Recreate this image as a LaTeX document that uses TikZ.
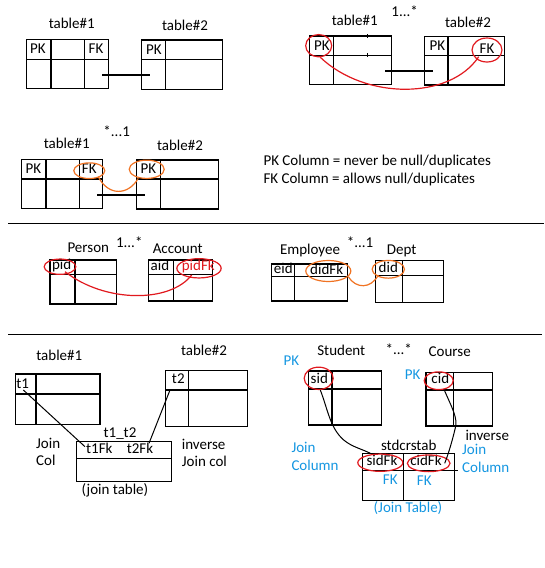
\documentclass[tikz,border=0pt]{standalone}
\usepackage{fontspec}
\setmainfont{Carlito}
\usetikzlibrary{shapes.geometric}
\definecolor{redc}{RGB}{225,25,30}
\definecolor{orangec}{RGB}{240,115,35}
\definecolor{bluec}{RGB}{20,150,225}
\newcommand\fsz{\fontsize{15}{18}\selectfont}
\tikzset{
  tb/.style={line width=1.2pt, black},
  sepline/.style={line width=1.3pt, black},
  lbl/.style={inner sep=0pt, font=\fsz, text height=0.72em, text depth=0.2em},
  lft/.style={lbl, anchor=west},
  bl/.style={lbl, text=bluec},
  oval/.style={ellipse, draw, line width=1.2pt, inner sep=0pt},
  redov/.style={oval, draw=redc},
  orov/.style={oval, draw=orangec},
  redcon/.style={redc, line width=1.2pt},
  orcon/.style={orangec, line width=1.2pt},
  blkcon/.style={black, line width=1pt},
  link/.style={black, line width=1.2pt}
}
\begin{document}
\begin{tikzpicture}[x=1pt,y=-1pt]
\useasboundingbox (0,0) rectangle (544,568);

% ---------- panel 1 ----------
\draw[tb] (26.7,39.3) rectangle (108.3,88.3);
\draw[tb] (26.7,59.3) -- (108.3,59.3) (51,39.3) -- (51,88.3) (84.3,39.3) -- (84.3,88.3);
\draw[tb] (141.7,40) rectangle (222.7,89.3);
\draw[tb] (141.7,59.3) -- (222.7,59.3) (165.7,40) -- (165.7,89.3);
\node[lbl] (a1) at (71.7,26) {table\#1};
\node[lbl] (a2) at (185,28) {table\#2};
\node[lbl] (apk1) at (38,51) {PK};
\node[lbl] (afk1) at (96,51) {FK};
\node[lbl] (apk2) at (154,51.5) {PK};
\coordinate (al1) at (102.3,75);
\coordinate (al2) at (150,75);
\draw[link] (al1) -- (al2);

% ---------- panel 2 ----------
\draw[tb] (309.3,36) rectangle (391.3,84.3);
\draw[tb] (309.3,55.3) -- (391.3,55.3) (333.7,36) -- (333.7,84.3);
\draw[tb] (367.7,34) -- (367.7,38) (367.7,53.3) -- (367.7,57.3);
\draw[tb] (424.3,36.7) rectangle (504.7,85);
\draw[tb] (424.3,55.7) -- (504.7,55.7) (448,36.7) -- (448,85);
\node[lbl] (b1) at (354.7,23.3) {table\#1};
\node[lbl] (b2) at (468,25) {table\#2};
\node[lbl] (bm) at (404.7,14) {1...*};
\node[lbl] (bpk1) at (322,47.5) {PK};
\node[lbl] (bpk2) at (437.5,47.5) {PK};
\node[lbl] (bfk2) at (487,50.5) {FK};
\node[redov, minimum width=26pt, minimum height=22.3pt] (bo1) at (318.7,45.7) {};
\node[redov, minimum width=30pt, minimum height=24pt] (bo2) at (487,50) {};
\coordinate (bl1) at (385.3,71);
\coordinate (bl2) at (433,71);
\draw[link] (bl1) -- (bl2);
\coordinate (bc1) at (320.3,57.3);
\coordinate (bc2) at (478.7,56.7);
\draw[redcon] (bc1) .. controls (365,100) and (450,100) .. (bc2);

% ---------- panel 3 ----------
\draw[tb] (21.7,159.3) rectangle (102.7,208.3);
\draw[tb] (21.7,179) -- (102.7,179) (46,159.3) -- (46,208.3) (79.3,159.3) -- (79.3,208.3);
\draw[tb] (136.7,160) rectangle (218.3,209);
\draw[tb] (136.7,179) -- (218.3,179) (160.7,160) -- (160.7,209);
\node[lbl] (c1) at (66.7,145.7) {table\#1};
\node[lbl] (c2) at (180,148.3) {table\#2};
\node[lbl] (cm) at (116.7,134.3) {*...1};
\node[lbl] (cpk1) at (33.3,170.7) {PK};
\node[lbl] (cfk1) at (89.3,170.7) {FK};
\node[lbl] (cpk2) at (148.5,170.7) {PK};
\node[orov, minimum width=31pt, minimum height=15.7pt] (co1) at (89.3,170.7) {};
\node[orov, minimum width=35pt, minimum height=18.3pt] (co2) at (146.7,169.3) {};
\coordinate (cl1) at (97.3,195);
\coordinate (cl2) at (145,195);
\draw[link] (cl1) -- (cl2);
\coordinate (cc1) at (98.3,176.7);
\coordinate (cc2) at (138.3,178.3);
\draw[orcon] (cc1) .. controls (108,196) and (128,196) .. (cc2);

\node[lft] (note1) at (263.3,162.7) {PK Column = never be null/duplicates};
\node[lft] (note2) at (263.3,180.7) {FK Column = allows null/duplicates};

\draw[sepline] (8,223.5) -- (544,223.5);

% ---------- panel 4 ----------
\draw[tb] (50,260) rectangle (116.7,304);
\draw[tb] (50,274.3) -- (116.7,274.3) (75,260) -- (75,304);
\draw[tb] (148.3,260) rectangle (212.3,301);
\draw[tb] (148.3,274.3) -- (212.3,274.3) (173.3,260) -- (173.3,301);
\node[lbl] (d1) at (88.3,250) {Person};
\node[lbl] (d2) at (177.7,250.7) {Account};
\node[lbl] (dm) at (129.3,245) {1...*};
\node[lbl] (dpid) at (61.7,266.7) {pid};
\node[lbl] (daid) at (160,267.7) {aid};
\node[lbl, text=redc] (dfk) at (198.3,267.7) {pidFk};
\node[redov, minimum width=31.7pt, minimum height=15.3pt] (do1) at (60,266.7) {};
\node[redov, minimum width=44.3pt, minimum height=19.3pt] (do2) at (199,268.3) {};
\coordinate (dc1) at (65,271.7);
\coordinate (dc2) at (191.7,275);
\draw[redcon] (dc1) .. controls (105,303) and (170,303) .. (dc2);

\draw[tb] (271.7,264) rectangle (347.7,301);
\draw[tb] (271.7,276.7) -- (347.7,276.7) (294.3,264) -- (294.3,301);
\draw[tb] (375.7,260.7) rectangle (443.3,302.3);
\draw[tb] (375.7,275.7) -- (443.3,275.7) (402.3,260.7) -- (402.3,302.3);
\node[lbl] (e1) at (310,251.7) {Employee};
\node[lbl] (e2) at (401.7,252.3) {Dept};
\node[lbl] (em) at (360,245) {*...1};
\node[lbl] (eeid) at (283.3,270.7) {eid};
\node[lbl] (efk) at (326.7,271.7) {didFk};
\node[lbl] (edid) at (388.3,270) {did};
\node[orov, minimum width=45pt, minimum height=21pt] (eo1) at (328.3,271) {};
\node[orov, minimum width=32.3pt, minimum height=17.7pt] (eo2) at (388.3,269.3) {};
\coordinate (ec1) at (348.3,276.7);
\coordinate (ec2) at (378.3,275);
\draw[orcon] (ec1) .. controls (356,289) and (371,289) .. (ec2);

\draw[sepline] (8,334.3) -- (542,334.3);

% ---------- panel 5 left ----------
\draw[tb] (15.7,374) rectangle (100,424.3);
\draw[tb] (15.7,394) -- (100,394) (36,374) -- (36,424.3);
\draw[tb] (165.7,370.7) rectangle (247.3,426.7);
\draw[tb] (165.7,390) -- (247.3,390) (188.3,370.7) -- (188.3,426.7);
\draw[tb] (76.7,441.7) rectangle (171.7,481.7);
\draw[tb] (76.7,458.3) -- (171.7,458.3);
\node[lbl] (f1) at (59.3,358.3) {table\#1};
\node[lbl] (f2) at (204,353.3) {table\#2};
\node[lbl] (ft1) at (22.7,385.7) {t1};
\node[lbl] (ft2) at (178.3,381) {t2};
\node[lbl] (fj) at (120,435) {t1\_t2};
\node[lbl] (ff1) at (99.3,451) {t1Fk};
\node[lbl] (ff2) at (140,451) {t2Fk};
\node[lft] (fjn) at (36,445.7) {Join};
\node[lft] (fcol) at (36,463.3) {Col};
\node[lft] (finv) at (181.7,446.7) {inverse};
\node[lft] (fjc) at (181.7,464.3) {Join col};
\node[lbl] (fjt) at (115,491.7) {(join table)};
\coordinate (fa1) at (23.3,390);
\coordinate (fa2) at (85,446.7);
\coordinate (fb1) at (170,390);
\coordinate (fb2) at (149,443.3);
\draw[blkcon] (fa1) -- (fa2);
\draw[blkcon] (fb1) -- (fb2);

% ---------- panel 5 right ----------
\draw[tb] (308.7,371) rectangle (381.3,425);
\draw[tb] (308.7,389) -- (381.3,389) (332,371) -- (332,425);
\draw[tb] (426,372.3) rectangle (492.7,426);
\draw[tb] (426,390) -- (492.7,390) (453.7,372.3) -- (453.7,426);
\draw[tb] (362.7,453.3) rectangle (454.7,500.7);
\draw[tb] (362.7,470.7) -- (457.5,470.7) (403.7,453.3) -- (403.7,500.7);
\node[lbl] (g1) at (341.3,353.3) {Student};
\node[lbl] (g2) at (449.7,354) {Course};
\node[lbl] (gm) at (398.7,351.7) {*...*};
\node[bl] (gpk1) at (291.3,363.3) {PK};
\node[bl] (gpk2) at (412.7,376.7) {PK};
\node[lbl] (gsid) at (319.3,381) {sid};
\node[lbl] (gcid) at (440.3,381) {cid};
\node[lbl] (gj) at (408.7,447.7) {stdcrstab};
\node[lbl] (gsf) at (382,463.3) {sidFk};
\node[lbl] (gcf) at (426,463.3) {cidFk};
\node[bl] (gfk1) at (390.3,481.7) {FK};
\node[bl] (gfk2) at (424.3,483.3) {FK};
\node[bl] (gjt) at (408,510) {(Join Table)};
\node[bl, anchor=west] (gjn1) at (291.3,450) {Join};
\node[bl, anchor=west] (gco1) at (291.3,467.7) {Column};
\node[lft] (ginv) at (465.3,438.3) {inverse};
\node[bl, anchor=west] (gjn2) at (462,451.7) {Join};
\node[bl, anchor=west] (gco2) at (462,470) {Column};
\node[redov, minimum width=29pt, minimum height=22.3pt] (go1) at (318.7,378.3) {};
\node[redov, minimum width=29pt, minimum height=17.7pt] (go2) at (438.7,380.7) {};
\node[redov, minimum width=45pt, minimum height=17.3pt] (go3) at (380.3,462.7) {};
\node[redov, minimum width=42.7pt, minimum height=16.7pt] (go4) at (428.7,463.3) {};
\coordinate (gs1) at (320.3,390);
\coordinate (gs2) at (343.7,440);
\coordinate (gs3) at (370.3,453.3);
\coordinate (gc1) at (444.3,390);
\coordinate (gc2) at (455.3,428);
\coordinate (gc3) at (444.7,463.3);
\draw[blkcon] (gs1) .. controls (328,410) and (330,428) .. (gs2) .. controls (352,447) and (362,449) .. (gs3);
\draw[blkcon] (gc1) .. controls (452,408) and (458,418) .. (gc2) .. controls (452,442) and (448,455) .. (gc3);
\end{tikzpicture}
\end{document}
